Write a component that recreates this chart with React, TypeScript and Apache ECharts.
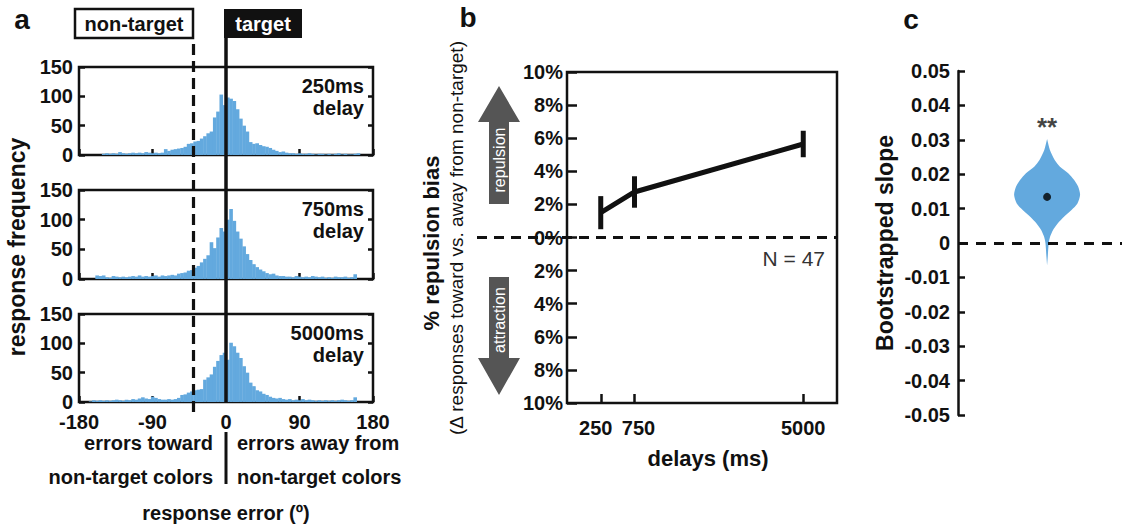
import { useEffect, useRef } from 'react';
import * as echarts from 'echarts';

// ---------- panel a: response-error histograms ----------
const BIN_START = -180;
const BIN_WIDTH = 4;
const ERROR_MIN = -180;
const ERROR_MAX = 180;
const NON_TARGET_OFFSET = -40;
const DELAY_TITLES = ['250ms', '750ms', '5000ms'];

// counts per 4° bin, starting at -180°
const COUNTS_250 = [
  0, 0, 0, 0, 0, 0, 0, 2, 3, 2,
  3, 2, 5, 3, 2, 3, 4, 3, 4, 3,
  5, 4, 3, 4, 3, 4, 10, 7, 9, 10,
  11, 12, 14, 19, 20, 23, 24, 28, 32, 37,
  40, 64, 74, 103, 85, 98, 96, 92, 78, 62,
  50, 40, 22, 19, 20, 17, 15, 14, 12, 9,
  7, 5, 6, 4, 3, 3, 2, 3, 2, 2,
  3, 2, 1, 2, 2, 1, 2, 1, 2, 3,
  1, 2, 1, 1, 2, 3, 0, 0, 0, 0,
];
const COUNTS_750 = [
  0, 0, 0, 0, 0, 6, 5, 6, 3, 2,
  5, 4, 3, 4, 3, 4, 5, 4, 6, 4,
  5, 4, 5, 6, 4, 6, 5, 6, 7, 6,
  9, 10, 11, 14, 15, 19, 22, 28, 34, 40,
  62, 52, 70, 86, 80, 100, 118, 98, 80, 68,
  55, 42, 32, 25, 20, 16, 13, 10, 8, 9,
  6, 5, 5, 4, 4, 3, 5, 4, 3, 4,
  3, 5, 4, 3, 4, 2, 3, 2, 4, 3,
  3, 4, 2, 3, 8, 0, 0, 0, 0, 0,
];
const COUNTS_5000 = [
  0, 0, 0, 1, 3, 2, 3, 2, 3, 2,
  3, 4, 3, 2, 4, 3, 5, 4, 6, 8,
  6, 5, 9, 7, 5, 4, 4, 5, 4, 5,
  7, 12, 13, 16, 18, 20, 21, 22, 38, 42,
  47, 60, 70, 80, 84, 72, 101, 95, 84, 75,
  61, 50, 33, 27, 20, 18, 14, 12, 9, 7,
  6, 7, 5, 4, 5, 3, 4, 3, 5, 3,
  4, 3, 2, 3, 2, 3, 2, 3, 2, 3,
  4, 3, 2, 3, 8, 0, 0, 0, 0, 0,
];
const HIST_COUNTS = [COUNTS_250, COUNTS_750, COUNTS_5000];

// ---------- panel b: repulsion bias over delays ----------
const DELAY_LABELS = ['250', '750', '5000'];
const DELAY_AXIS_POS = [1, 2, 7];
const BIAS_MEAN = [1.5, 2.75, 5.65];
const BIAS_SEM = [1.0, 0.95, 0.8];
const N_SUBJECTS = 47;

// ---------- panel c: bootstrapped slope distribution ----------
const SLOPE_LEVELS = [0.0302, 0.027, 0.0241, 0.0222, 0.0203, 0.0183, 0.0164, 0.014, 0.0115, 0.0096, 0.0077, 0.0057, 0.0038, 0.0018, 0, -0.004, -0.0065];
const SLOPE_DENSITY = [0, 0.085, 0.23, 0.39, 0.64, 0.82, 0.94, 1.0, 0.92, 0.74, 0.52, 0.32, 0.18, 0.09, 0.05, 0.02, 0];
const SLOPE_MEAN = 0.0134;
const SLOPE_STARS = '**';
const SLOPE_STAR_LEVEL = 0.035;

const FONT = "'Liberation Sans', Arial, Helvetica, sans-serif";
const BAR_COLOR = '#63a9de';
const INK = '#111';

const HIST_GRIDS = [
  { left: 79, top: 67, width: 294, height: 88 },
  { left: 79, top: 190, width: 294, height: 89 },
  { left: 79, top: 314, width: 294, height: 88 },
];

function text(str: string, x: number, y: number, size: number, opts: any = {}) {
  const align = opts.align || 'center';
  const valign = opts.valign || 'middle';
  return {
    type: 'text',
    x,
    y,
    rotation: opts.rotation || 0,
    z: 100,
    style: {
      text: str,
      fontSize: size,
      fontWeight: opts.weight || 'bold',
      fontFamily: FONT,
      fill: opts.fill || INK,
      align,
      textAlign: align,
      verticalAlign: valign,
      textVerticalAlign: valign,
    },
  };
}

function buildOption() {
  const boxGrid = { show: true, borderColor: INK, borderWidth: 2.5, backgroundColor: 'transparent' };
  const tickInside = (len: number) => ({ show: true, inside: true, length: len, lineStyle: { color: INK, width: 2.5 } });
  const noLine = { show: false, onZero: false };
  const labelFont = { fontFamily: FONT, fontWeight: 'bold', fontSize: 20, color: INK };

  const grid: any[] = [
    ...HIST_GRIDS.map((g) => ({ ...g, ...boxGrid })),
    { left: 79, top: 38, width: 294, height: 364 }, // target line overlay
    { left: 79, top: 38, width: 294, height: 374 }, // non-target line overlay
    { left: 567, top: 72, width: 270, height: 331, ...boxGrid }, // panel b
    { left: 477, top: 72, width: 360, height: 331 }, // panel b zero line
    { left: 958, top: 71, width: 164, height: 344 }, // panel c
  ];

  const xAxis: any[] = [];
  const yAxis: any[] = [];

  HIST_GRIDS.forEach((_, i) => {
    xAxis.push({
      type: 'value', gridIndex: i, min: ERROR_MIN, max: ERROR_MAX, interval: 90,
      axisLine: noLine, splitLine: { show: false },
      axisTick: tickInside(6),
      axisLabel: { show: i === 2, margin: 10, ...labelFont },
    });
    yAxis.push({
      type: 'value', gridIndex: i, min: 0, max: 150, interval: 50,
      axisLine: noLine, splitLine: { show: false },
      axisTick: tickInside(6),
      axisLabel: { margin: 6, ...labelFont },
    });
  });
  // overlays (3, 4)
  for (const gi of [3, 4]) {
    xAxis.push({ type: 'value', gridIndex: gi, min: ERROR_MIN, max: ERROR_MAX, show: false });
    yAxis.push({ type: 'value', gridIndex: gi, min: 0, max: 1, show: false });
  }
  // panel b (5)
  xAxis.push({
    type: 'value', gridIndex: 5, min: 0, max: 8,
    axisLine: noLine, splitLine: { show: false },
    axisTick: { ...tickInside(9), customValues: DELAY_AXIS_POS },
    axisLabel: {
      margin: 15, ...labelFont, customValues: DELAY_AXIS_POS,
      formatter: (v: number) => {
        const i = DELAY_AXIS_POS.indexOf(v);
        if (i < 0) return '';
        return `{d${i}|${DELAY_LABELS[i]}}`;
      },
      rich: {
        d0: { ...labelFont, padding: [0, 10, 0, 0] },
        d1: { ...labelFont, padding: [0, 0, 0, 8] },
        d2: { ...labelFont },
      },
    },
  });
  yAxis.push({
    type: 'value', gridIndex: 5, min: -10, max: 10, interval: 2,
    axisLine: noLine, splitLine: { show: false },
    axisTick: tickInside(10),
    axisLabel: { margin: 4, ...labelFont, formatter: (v: number) => `${Math.abs(Math.round(v))}%` },
  });
  // panel b zero line (6)
  xAxis.push({ type: 'value', gridIndex: 6, min: 0, max: 1, show: false });
  yAxis.push({ type: 'value', gridIndex: 6, min: -10, max: 10, show: false });
  // panel c (7)
  xAxis.push({ type: 'value', gridIndex: 7, min: -2.7, max: 2.27, show: false });
  yAxis.push({
    type: 'value', gridIndex: 7, min: -0.05, max: 0.05, interval: 0.01,
    axisLine: { show: true, onZero: false, lineStyle: { color: INK, width: 2.5 } },
    splitLine: { show: false },
    axisTick: tickInside(7),
    axisLabel: {
      margin: 8, ...labelFont,
      formatter: (v: number) => (Math.abs(v) < 1e-9 ? '0' : v.toFixed(2)),
    },
    name: 'Bootstrapped slope', nameLocation: 'middle', nameGap: 62, nameRotate: 90,
    nameTextStyle: { fontFamily: FONT, fontWeight: 'bold', fontSize: 23, color: INK },
  });
  // right-hand ticks on the histogram boxes (8, 9, 10)
  HIST_GRIDS.forEach((_, i) => {
    yAxis.push({
      type: 'value', gridIndex: i, min: 0, max: 150, interval: 50, position: 'right',
      axisLine: noLine, splitLine: { show: false },
      axisTick: tickInside(5), axisLabel: { show: false },
    });
  });

  const histRender = (_p: any, api: any) => {
    const x0 = api.value(0);
    const x1 = api.value(1);
    const h = api.value(2);
    if (!h) return null;
    const a = api.coord([x0, 0]);
    const b = api.coord([x1, h]);
    return {
      type: 'rect',
      shape: { x: a[0], y: b[1], width: b[0] - a[0] + 0.35, height: a[1] - b[1] },
      style: { fill: BAR_COLOR },
    };
  };

  const series: any[] = HIST_COUNTS.map((counts, i) => ({
    type: 'custom',
    xAxisIndex: i,
    yAxisIndex: i,
    z: 2,
    renderItem: histRender,
    encode: { x: [0, 1], y: 2 },
    data: counts.map((c, k) => [BIN_START + k * BIN_WIDTH, BIN_START + (k + 1) * BIN_WIDTH, c]),
  }));

  series.push({
    type: 'line', xAxisIndex: 3, yAxisIndex: 3, z: 5, data: [[0, 0]], showSymbol: false, silent: true,
    markLine: {
      symbol: 'none', silent: true, label: { show: false },
      lineStyle: { color: INK, width: 3.5, type: 'solid' },
      data: [{ xAxis: 0 }],
    },
  });
  series.push({
    type: 'line', xAxisIndex: 4, yAxisIndex: 4, z: 5, data: [[0, 0]], showSymbol: false, silent: true,
    markLine: {
      symbol: 'none', silent: true, label: { show: false },
      lineStyle: { color: INK, width: 3.2, type: [11, 6] },
      data: [{ xAxis: NON_TARGET_OFFSET }],
    },
  });

  // panel b
  series.push({
    type: 'line', xAxisIndex: 6, yAxisIndex: 6, z: 3, data: [[0, 0]], showSymbol: false, silent: true,
    markLine: {
      symbol: 'none', silent: true, label: { show: false },
      lineStyle: { color: INK, width: 3, type: [10, 7] },
      data: [{ yAxis: 0 }],
    },
  });
  series.push({
    type: 'line', xAxisIndex: 5, yAxisIndex: 5, z: 4, symbol: 'none',
    lineStyle: { color: INK, width: 5 },
    data: DELAY_AXIS_POS.map((p, i) => [p, BIAS_MEAN[i]]),
  });
  series.push({
    type: 'custom', xAxisIndex: 5, yAxisIndex: 5, z: 4,
    encode: { x: 0, y: 1 },
    data: DELAY_AXIS_POS.map((p, i) => [p, BIAS_MEAN[i], BIAS_SEM[i]]),
    renderItem: (_p: any, api: any) => {
      const x = api.value(0);
      const m = api.value(1);
      const e = api.value(2);
      const lo = api.coord([x, m - e]);
      const hi = api.coord([x, m + e]);
      return {
        type: 'line',
        shape: { x1: lo[0], y1: lo[1], x2: hi[0], y2: hi[1] },
        style: { stroke: INK, lineWidth: 5 },
      };
    },
  });

  // panel c
  series.push({
    type: 'custom', xAxisIndex: 7, yAxisIndex: 7, z: 3,
    encode: { x: 0, y: 1 },
    data: [[0, SLOPE_MEAN]],
    renderItem: (_p: any, api: any) => {
      const cx = api.value(0);
      const right = SLOPE_LEVELS.map((v, i) => api.coord([cx + SLOPE_DENSITY[i], v]));
      const left = SLOPE_LEVELS.map((v, i) => api.coord([cx - SLOPE_DENSITY[i], v])).reverse();
      return {
        type: 'polygon',
        shape: { points: [...right, ...left], smooth: 0.25 },
        style: { fill: BAR_COLOR },
      };
    },
    markLine: {
      symbol: 'none', silent: true, label: { show: false },
      lineStyle: { color: INK, width: 3, type: [10, 8] },
      data: [{ yAxis: 0 }],
    },
  });
  series.push({
    type: 'scatter', xAxisIndex: 7, yAxisIndex: 7, z: 6,
    symbolSize: 8, itemStyle: { color: '#000' },
    data: [[0, SLOPE_MEAN]],
  });
  series.push({
    type: 'scatter', xAxisIndex: 7, yAxisIndex: 7, z: 6,
    symbolSize: 0,
    label: {
      show: true, position: 'inside', formatter: SLOPE_STARS, offset: [0, 4],
      fontFamily: FONT, fontWeight: 'bold', fontSize: 26, color: INK,
    },
    data: [[0, SLOPE_STAR_LEVEL]],
  });

  const graphic: any[] = [
    // panel letters
    text('a', 22, 19, 28),
    text('b', 468, 17, 28),
    text('c', 911, 19, 28),
    // target / non-target tags
    { type: 'rect', z: 90, shape: { x: 75, y: 9, width: 118, height: 29 }, style: { fill: '#fff', stroke: INK, lineWidth: 2.5 } },
    text('non-target', 134, 24, 20),
    { type: 'rect', z: 90, shape: { x: 224, y: 9, width: 78, height: 29 }, style: { fill: INK } },
    text('target', 263, 24, 20, { fill: '#fff' }),
    // histogram titles
    ...HIST_GRIDS.flatMap((g, i) => [
      text(DELAY_TITLES[i], 364, g.top + 19, 20, { align: 'right' }),
      text('delay', 364, g.top + 41, 20, { align: 'right' }),
    ]),
    text('response frequency', 17, 247, 23, { rotation: Math.PI / 2 }),
    text('errors toward', 213, 443, 20, { align: 'right' }),
    text('non-target colors', 213, 477, 20, { align: 'right' }),
    text('errors away from', 237, 443, 20, { align: 'left' }),
    text('non-target colors', 237, 477, 20, { align: 'left' }),
    { type: 'line', z: 90, shape: { x1: 226, y1: 432, x2: 226, y2: 484 }, style: { stroke: INK, lineWidth: 3 } },
    text('response error (º)', 226, 513, 20),
    // panel b annotations
    text('% repulsion bias', 431, 243, 22, { rotation: Math.PI / 2 }),
    text('(Δ responses toward vs. away from non-target)', 456, 238, 19, { rotation: Math.PI / 2, weight: 'normal' }),
    {
      type: 'polygon', z: 80,
      shape: { points: [[499, 86], [520, 122], [509, 122], [509, 204], [489, 204], [489, 122], [478, 122]] },
      style: { fill: '#555' },
    },
    text('repulsion', 499, 160, 16, { rotation: Math.PI / 2, weight: 'normal', fill: '#fff' }),
    {
      type: 'polygon', z: 80,
      shape: { points: [[489, 277], [509, 277], [509, 358], [520, 358], [499, 395], [478, 358], [489, 358]] },
      style: { fill: '#555' },
    },
    text('attraction', 499, 320, 16, { rotation: Math.PI / 2, weight: 'normal', fill: '#fff' }),
    text(`N = ${N_SUBJECTS}`, 825, 258, 21, { align: 'right', weight: 'normal', fill: '#333' }),
    text('delays (ms)', 708, 458, 22),
  ];

  return {
    animation: false,
    backgroundColor: '#fff',
    grid,
    xAxis,
    yAxis,
    series,
    graphic,
  };
}

export default function App() {
  const ref = useRef<HTMLDivElement>(null);
  useEffect(() => {
    document.body.style.margin = '0';
    const chart = echarts.init(ref.current as HTMLDivElement, null, { renderer: 'svg' });
    chart.setOption(buildOption() as any);
    return () => chart.dispose();
  }, []);
  return <div ref={ref} style={{ width: 1122, height: 531, background: '#fff' }} />;
}
